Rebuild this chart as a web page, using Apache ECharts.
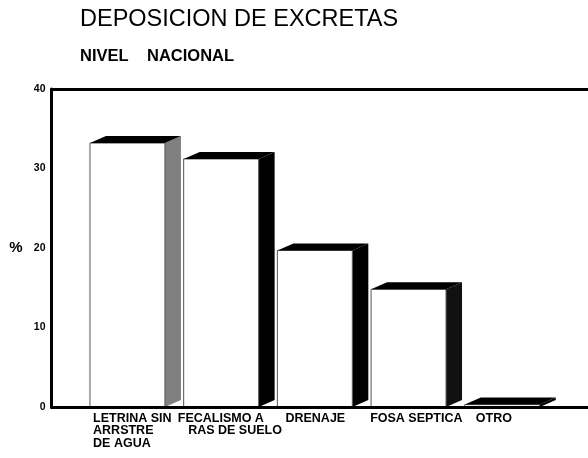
<!DOCTYPE html>
<html>
<head>
<meta charset="utf-8">
<script src="https://cdn.jsdelivr.net/npm/echarts@6/dist/echarts.min.js"></script>
<style>
  html, body { margin: 0; padding: 0; background: #fff; }
  #chart { width: 588px; height: 458px; }
</style>
</head>
<body>
<div id="chart"></div>
<script>
var categories = ['LETRINA SIN\nARRSTRE\nDE AGUA', 'FECALISMO A\n   RAS DE SUELO', 'DRENAJE', 'FOSA SEPTICA', 'OTRO'];
var values = [33.2, 31.2, 19.7, 14.8, 0.3];
var yTicks = [0, 10, 20, 30, 40];

// color of each bar's side face
var sideShades = ['#808080', '#000', '#000', '#111', '#000'];
// extra left padding of each category label, px
var labelNudge = [9, 0, 14, 5, 17];
var font = 'Liberation Sans, Arial, sans-serif';
var frameLine = {show: true, lineStyle: {color: '#000', width: 3}};

var chart = echarts.init(document.getElementById('chart'));

function renderBar(params, api) {
    var idx = api.value(0);
    var top = api.coord([idx, api.value(1)]);
    var base = api.coord([idx, 0]);
    var w = api.size([1, 0])[0] * 0.8;
    var dx = 16, dy = 7;
    var x0 = top[0] - w / 2, x1 = top[0] + w / 2, yT = top[1], yB = base[1];
    return {
        type: 'group',
        children: [
            {type: 'polygon', shape: {points: [[x1, yT], [x1 + dx, yT - dy], [x1 + dx, yB - dy], [x1, yB]]},
                style: {fill: sideShades[idx]}},
            {type: 'rect', shape: {x: x0, y: yT, width: w, height: yB - yT},
                style: {fill: '#fff', stroke: '#555', lineWidth: 1}},
            {type: 'polygon', shape: {points: [[x0, yT], [x0 + dx, yT - dy], [x1 + dx, yT - dy], [x1, yT]]},
                style: {fill: '#000'}}
        ]
    };
}

var labelItems = categories.map(function (c, i) {
    return {value: c, textStyle: {align: 'left', padding: [0, 0, 0, labelNudge[i]]}};
});

chart.setOption({
    backgroundColor: '#fff',
    animation: false,
    title: [
        {text: 'DEPOSICION DE EXCRETAS', left: 80, top: 8, padding: 0,
            textStyle: {fontFamily: font, fontSize: 23.5, fontWeight: 'normal', color: '#000'}},
        {text: 'NIVEL', left: 80, top: 48, padding: 0,
            textStyle: {fontFamily: font, fontSize: 16.5, fontWeight: 'bold', color: '#000'}},
        {text: 'NACIONAL', left: 147, top: 48, padding: 0,
            textStyle: {fontFamily: font, fontSize: 16.5, fontWeight: 'bold', color: '#000'}}
    ],
    grid: [
        // frame + y axis
        {left: 51.5, right: 0, top: 89, bottom: 51},
        // bars
        {left: 80.6, right: 38.9, top: 89, bottom: 51},
        // category labels
        {left: 37.2, right: 82.3, top: 89, bottom: 51}
    ],
    xAxis: [
        {gridIndex: 0, type: 'category', data: categories, z: 10,
            axisLine: frameLine, axisTick: {show: false}, axisLabel: {show: false}},
        {gridIndex: 0, type: 'category', data: categories, position: 'top',
            axisLine: frameLine, axisTick: {show: false}, axisLabel: {show: false}},
        {gridIndex: 1, type: 'category', data: categories, show: false},
        {gridIndex: 2, type: 'category', data: labelItems,
            axisLine: {show: false}, axisTick: {show: false},
            axisLabel: {align: 'left', margin: 5, interval: 0, fontFamily: font, fontSize: 12.5,
                fontWeight: 'bold', color: '#000', lineHeight: 12.5}}
    ],
    yAxis: [
        {gridIndex: 0, type: 'value', min: yTicks[0], max: yTicks[yTicks.length - 1], interval: 10,
            name: '%', nameLocation: 'middle', nameRotate: 0, nameGap: 29,
            nameTextStyle: {fontFamily: font, fontSize: 15, fontWeight: 'bold', color: '#000'},
            axisLine: frameLine, axisTick: {show: false}, splitLine: {show: false},
            axisLabel: {margin: 6, fontFamily: font, fontSize: 10.5, fontWeight: 'bold', color: '#000'}},
        {gridIndex: 1, type: 'value', min: 0, max: 40, show: false, splitLine: {show: false}},
        {gridIndex: 2, type: 'value', min: 0, max: 40, show: false, splitLine: {show: false}}
    ],
    series: [{
        type: 'custom',
        xAxisIndex: 2,
        yAxisIndex: 1,
        renderItem: renderBar,
        data: values.map(function (v, i) { return [i, v]; })
    }]
});
</script>
</body>
</html>
